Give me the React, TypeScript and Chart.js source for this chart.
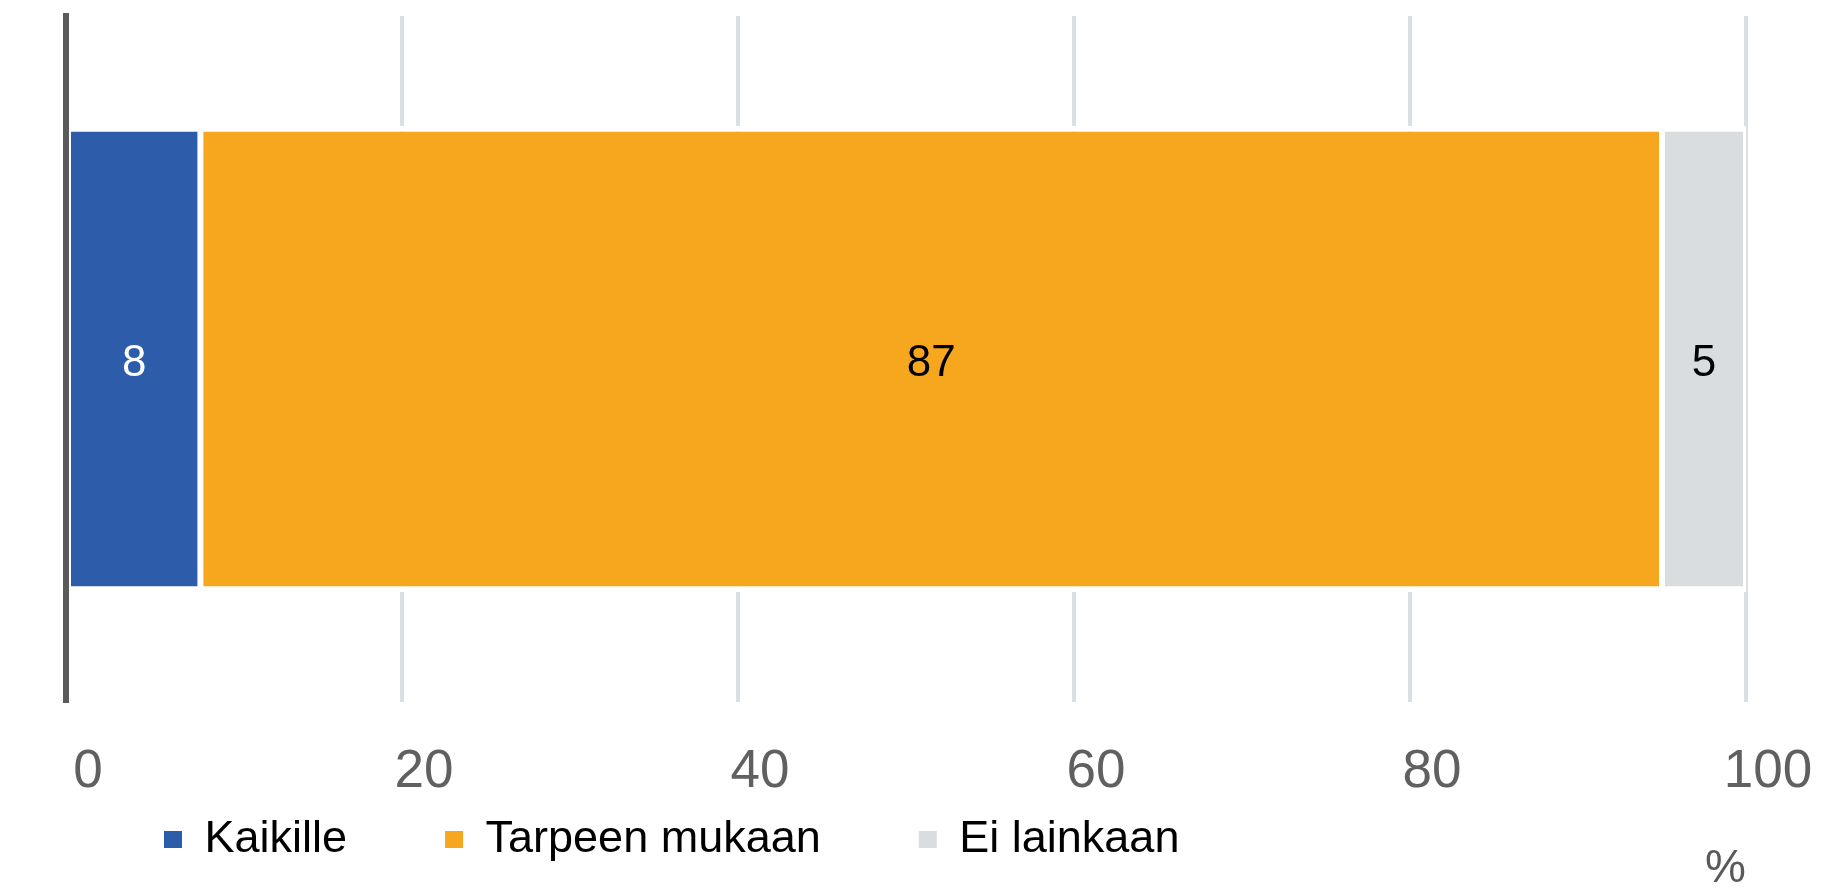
import React, { useEffect, useRef } from 'react';
import { Chart, registerables } from 'chart.js';

Chart.register(...registerables);

// ---- data ----
const categories = ['Vastaajat'];
const seriesNames = ['Kaikille', 'Tarpeen mukaan', 'Ei lainkaan'];
const kaikille = [8];
const tarpeenMukaan = [87];
const eiLainkaan = [5];
const xTickValues = [0, 20, 40, 60, 80, 100];
const axisUnit = '%';

// ---- styles ----
const FONT = "'Liberation Sans', Arial, Helvetica, sans-serif";
const barColors = ['#2d5daa', '#f7a71d', '#dadde0'];
const valueLabelColors = ['#ffffff', '#000000', '#000000'];

const valueLabelPlugin = {
  id: 'valueLabels',
  afterDatasetsDraw(chart: any) {
    const ctx = chart.ctx;
    ctx.save();
    ctx.font = `44px ${FONT}`;
    ctx.textAlign = 'center';
    ctx.textBaseline = 'middle';
    chart.data.datasets.forEach((ds: any, i: number) => {
      const meta = chart.getDatasetMeta(i);
      if (meta.hidden) return;
      meta.data.forEach((el: any, j: number) => {
        const v = ds.data[j];
        if (v == null) return;
        const p = el.getCenterPoint();
        ctx.fillStyle = valueLabelColors[i];
        ctx.fillText(String(v), p.x, p.y + 5);
      });
    });
    ctx.restore();
  },
};

export default function App() {
  const canvasRef = useRef<HTMLCanvasElement | null>(null);

  useEffect(() => {
    if (!canvasRef.current) return;
    Chart.defaults.font.family = FONT;
    const seriesData = [kaikille, tarpeenMukaan, eiLainkaan];
    const chart = new Chart(canvasRef.current, {
      type: 'bar',
      data: {
        labels: categories,
        datasets: seriesNames.map((name, i) => ({
          label: name,
          data: seriesData[i],
          backgroundColor: barColors[i],
          borderColor: '#ffffff',
          borderWidth: { top: 6, bottom: 6, left: 3, right: 3 },
          borderSkipped: false,
          barPercentage: 0.68,
          categoryPercentage: 1,
        })),
      },
      options: {
        indexAxis: 'y',
        responsive: false,
        animation: false,
        devicePixelRatio: 1,
        layout: { padding: { top: 16, left: 66, right: 78, bottom: 17 } },
        scales: {
          x: {
            stacked: true,
            min: 0,
            max: 100,
            border: { display: false },
            grid: { color: '#dcdfe2', lineWidth: 4, drawTicks: false },
            ticks: {
              font: { size: 53, family: FONT },
              color: '#606060',
              mirror: true,
              padding: -102,
              labelOffset: 22,
              maxRotation: 0,
              autoSkip: false,
            },
            afterBuildTicks: (scale: any) => {
              scale.ticks = xTickValues.map((v) => ({ value: v }));
            },
            title: {
              display: true,
              text: axisUnit,
              align: 'end',
              color: '#595959',
              font: { size: 46, family: FONT },
              padding: { top: 0, bottom: -178 },
            },
            afterFit: (scale: any) => {
              scale.height = 17;
            },
          },
          y: {
            stacked: true,
            grid: { display: false, drawTicks: false },
            border: { display: true, color: '#5a5a5a', width: 6, z: 1 },
            ticks: { display: false },
          },
        },
        plugins: {
          legend: {
            position: 'bottom',
            align: 'start',
            fullSize: false,
            labels: {
              boxWidth: 18,
              boxHeight: 17,
              padding: 98,
              color: '#000000',
              font: { size: 45, family: FONT },
              generateLabels: (c: any) =>
                (Chart.defaults.plugins.legend.labels as any)
                  .generateLabels(c)
                  .map((l: any) => ({ ...l, lineWidth: 0 })),
            },
          },
          tooltip: { enabled: false },
          title: { display: false },
        },
      },
      plugins: [valueLabelPlugin],
    } as any);
    return () => chart.destroy();
  }, []);

  return (
    <div style={{ position: 'absolute', left: 0, top: 0, width: 1824, height: 889, background: '#ffffff' }}>
      <canvas ref={canvasRef} width={1824} height={889} style={{ display: 'block', width: 1824, height: 889 }} />
    </div>
  );
}
